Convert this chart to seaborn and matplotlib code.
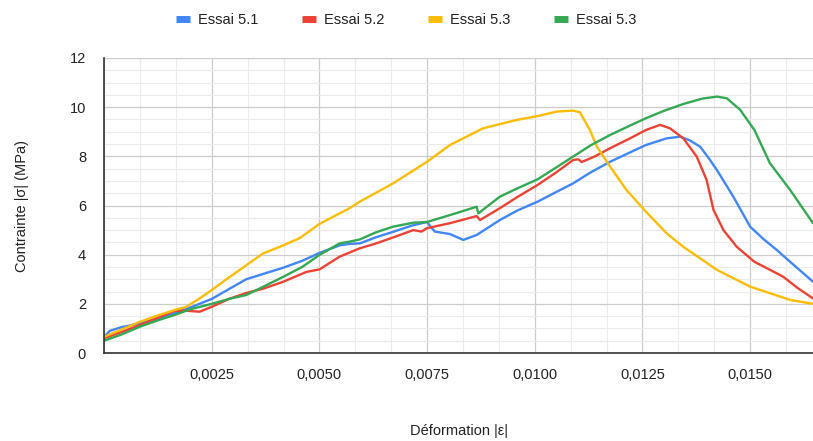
import numpy as np
import pandas as pd
import matplotlib
matplotlib.use("Agg")
import matplotlib.pyplot as plt
import seaborn as sns
from matplotlib.ticker import MultipleLocator, FuncFormatter
from matplotlib.lines import Line2D

# ---------------- data ----------------
series_names = ["Essai 5.1", "Essai 5.2", "Essai 5.3", "Essai 5.3"]
series_colors = ["#4285F4", "#EA4335", "#FBBC04", "#34A853"]

x_51 = [0, 0.00013, 0.0004, 0.00083, 0.0012, 0.00164, 0.002, 0.0025, 0.0029, 0.0033,
        0.0037, 0.00416, 0.0046, 0.005, 0.00547, 0.0057, 0.00594, 0.0063, 0.00671, 0.00718,
        0.0075, 0.0076, 0.00768, 0.00803, 0.00834, 0.00865, 0.00919, 0.0096, 0.01007, 0.0105,
        0.01089, 0.0113, 0.01175, 0.0122, 0.01258, 0.01306, 0.01337, 0.0136, 0.01384, 0.01405,
        0.01423, 0.01461, 0.015, 0.0153, 0.01562, 0.016, 0.01646]
y_51 = [0.65, 0.9, 1.05, 1.2, 1.38, 1.62, 1.85, 2.2, 2.6, 3.0,
        3.22, 3.47, 3.75, 4.07, 4.38, 4.44, 4.46, 4.7, 4.93, 5.2,
        5.33, 5.1, 4.94, 4.84, 4.6, 4.8, 5.41, 5.8, 6.16, 6.55,
        6.9, 7.35, 7.78, 8.15, 8.46, 8.73, 8.8, 8.65, 8.39, 7.9,
        7.44, 6.36, 5.14, 4.65, 4.19, 3.6, 2.9]

x_52 = [0, 0.0004, 0.00083, 0.0012, 0.00164, 0.0019, 0.00222, 0.0025, 0.0029, 0.0033,
        0.0037, 0.00416, 0.0047, 0.005, 0.00547, 0.00594, 0.0063, 0.00671, 0.00718, 0.00737,
        0.0075, 0.00803, 0.00865, 0.00873, 0.00919, 0.0096, 0.01007, 0.0105, 0.01089, 0.01101,
        0.01109, 0.0114, 0.01175, 0.0122, 0.01258, 0.01291, 0.01314, 0.01345, 0.01376, 0.01399,
        0.01415, 0.01438, 0.01469, 0.0151, 0.01562, 0.01577, 0.0161, 0.01646]
y_52 = [0.6, 0.85, 1.14, 1.4, 1.72, 1.72, 1.68, 1.88, 2.2, 2.44,
        2.62, 2.9, 3.3, 3.4, 3.92, 4.26, 4.45, 4.7, 5.0, 4.94,
        5.08, 5.28, 5.57, 5.41, 5.89, 6.35, 6.84, 7.35, 7.85, 7.88,
        7.77, 8.0, 8.33, 8.72, 9.07, 9.28, 9.14, 8.73, 7.99, 7.04,
        5.82, 5.0, 4.32, 3.71, 3.24, 3.1, 2.65, 2.22]

x_53a = [0, 0.0004, 0.00083, 0.0012, 0.00164, 0.00191, 0.0022, 0.0025, 0.0028, 0.00315,
         0.00369, 0.00408, 0.00454, 0.005, 0.0057, 0.00594, 0.00671, 0.0075, 0.00803, 0.0088,
         0.00958, 0.01007, 0.01051, 0.01089, 0.01105, 0.01128, 0.01144, 0.01175, 0.01213, 0.01258,
         0.01306, 0.01345, 0.01423, 0.015, 0.01593, 0.01646]
y_53a = [0.66, 0.95, 1.27, 1.5, 1.75, 1.88, 2.2, 2.56, 2.95, 3.38,
         4.05, 4.32, 4.67, 5.25, 5.89, 6.16, 6.9, 7.78, 8.46, 9.14,
         9.48, 9.64, 9.82, 9.86, 9.79, 9.07, 8.4, 7.58, 6.63, 5.75,
         4.87, 4.32, 3.38, 2.7, 2.16, 2.0]

x_53b = [0, 0.0004, 0.00083, 0.0012, 0.00164, 0.002, 0.0025, 0.0029, 0.0033, 0.0037,
         0.00416, 0.0046, 0.005, 0.00547, 0.0057, 0.00594, 0.0063, 0.00671, 0.00718, 0.0075,
         0.00803, 0.00865, 0.00869, 0.00919, 0.0096, 0.01007, 0.0105, 0.01089, 0.0113, 0.01175,
         0.01215, 0.01258, 0.013, 0.01345, 0.0139, 0.01423, 0.01446, 0.01477, 0.0151, 0.01546,
         0.01593, 0.01646]
y_53b = [0.5, 0.75, 1.07, 1.3, 1.55, 1.78, 2.0, 2.2, 2.36, 2.7,
         3.1, 3.5, 3.99, 4.46, 4.53, 4.62, 4.9, 5.14, 5.3, 5.33,
         5.61, 5.95, 5.68, 6.36, 6.7, 7.07, 7.55, 7.99, 8.45, 8.87,
         9.2, 9.55, 9.85, 10.13, 10.35, 10.43, 10.36, 9.89, 9.07, 7.72,
         6.63, 5.28]

series_x = [x_51, x_52, x_53a, x_53b]
series_y = [y_51, y_52, y_53a, y_53b]

x_label = "Déformation |ε|"
y_label = "Contrainte |σ| (MPa)"

# ---------------- plot ----------------
sns.set_theme(style="white")
plt.rcParams["font.family"] = ["Liberation Sans", "DejaVu Sans"]

fig = plt.figure(figsize=(8.13, 4.41), dpi=100)
ax = fig.add_axes([0.128, 0.1995, 0.872, 0.669])

for xs, ys, name, col in zip(series_x, series_y, series_names, series_colors):
    df = pd.DataFrame({"x": xs, "y": ys})
    sns.lineplot(data=df, x="x", y="y", ax=ax, color=col, linewidth=1.7,
                 sort=False, estimator=None, legend=False, clip_on=True,
                 solid_joinstyle="round", solid_capstyle="round")

ax.set_xlim(0, 0.01646)
ax.set_ylim(0, 12)
ax.xaxis.set_major_locator(MultipleLocator(0.0025))
ax.xaxis.set_minor_locator(MultipleLocator(0.0025 / 3))
ax.yaxis.set_major_locator(MultipleLocator(2))
ax.yaxis.set_minor_locator(MultipleLocator(0.5))

ax.xaxis.set_major_formatter(FuncFormatter(lambda v, p: "" if abs(v) < 1e-9 else f"{v:.4f}".replace(".", ",")))
ax.yaxis.set_major_formatter(FuncFormatter(lambda v, p: f"{v:.0f}"))

ax.grid(which="major", color="#cccccc", linewidth=0.9)
ax.grid(which="minor", color="#ebebeb", linewidth=0.8)
ax.set_axisbelow(True)

for s in ["top", "right"]:
    ax.spines[s].set_visible(False)
for s in ["left", "bottom"]:
    ax.spines[s].set_color("#333333")
    ax.spines[s].set_linewidth(1.2)

ax.tick_params(which="major", direction="inout", length=12, width=1.1, color="#333333",
               labelsize=10.5, labelcolor="#222222")
ax.tick_params(which="minor", direction="inout", length=6, width=0.9, color="#333333")
ax.tick_params(axis="x", which="major", pad=5)
ax.tick_params(axis="y", which="major", pad=7)

ax.set_xlabel(x_label, fontsize=10.5, color="#222222", labelpad=30)
ax.set_ylabel(y_label, fontsize=10.5, color="#222222", labelpad=29)

handles = [Line2D([0], [0], color=c, lw=5, solid_capstyle="butt") for c in series_colors]
fig.legend(handles, series_names, loc="upper center", bbox_to_anchor=(0.5, 1.0), ncol=4,
           frameon=False, fontsize=10.5, handlelength=0.9, handletextpad=0.6,
           columnspacing=3.0, labelcolor="#222222")

fig.savefig("out.png", dpi=100)
